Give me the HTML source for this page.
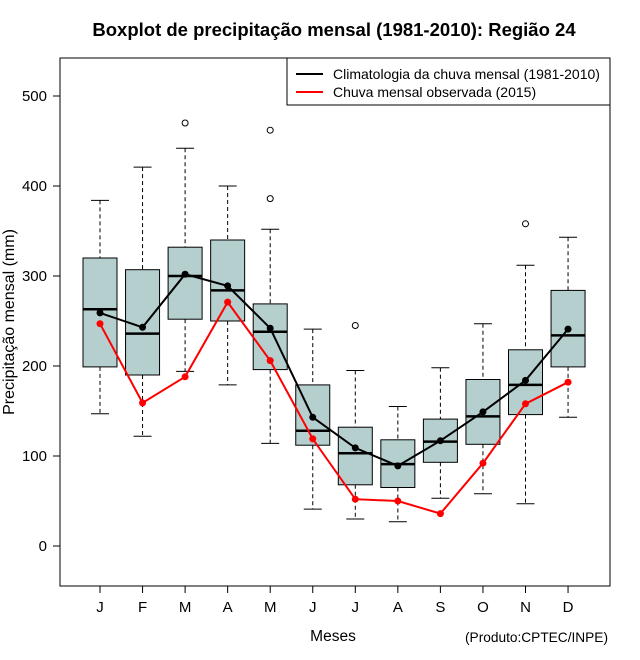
<!DOCTYPE html>
<html><head><meta charset="utf-8"><style>body{margin:0;background:#fff}svg{display:block;font-family:"Liberation Sans",sans-serif}</style></head>
<body>
<svg id="chart" width="640" height="660">
<text x="334" y="36" text-anchor="middle" font-size="18.5" font-weight="bold">Boxplot de precipitação mensal (1981-2010): Região 24</text>
<rect x="60" y="58" width="550" height="528" fill="none" stroke="#000"/>
<g id="yaxis"></g>
<g id="xaxis"></g>
<g id="boxes"></g>
<g id="lines"></g>
<text x="14" y="322" transform="rotate(-90 14 322)" text-anchor="middle" font-size="16">Precipitação mensal (mm)</text>
<text x="333" y="641" text-anchor="middle" font-size="15.5">Meses</text>
<text x="608" y="642" text-anchor="end" font-size="13.7">(Produto:CPTEC/INPE)</text>
<g>
<rect x="287" y="58" width="323" height="47" fill="#fff" stroke="#000"/>
<line x1="296" y1="74" x2="323" y2="74" stroke="#000" stroke-width="2"/>
<text x="333" y="79" font-size="14">Climatologia da chuva mensal (1981-2010)</text>
<line x1="296" y1="92" x2="323" y2="92" stroke="#f00" stroke-width="2"/>
<text x="333" y="97" font-size="14">Chuva mensal observada (2015)</text>
</g>
</svg>
<script>
const months=["J","F","M","A","M","J","J","A","S","O","N","D"];
const whiskerLow=[147,122,194,179,114,41,30,27,53,58,47,143];
const q1=[199,190,252,250,196,112,68,65,93,113,146,199];
const median=[263,236,300,284,238,128,103,91,116,144,179,234];
const q3=[320,307,332,340,269,179,132,118,141,185,218,284];
const whiskerHigh=[384,421,442,400,352,241,195,155,198,247,312,343];
const outliers=[[],[],[470],[],[462,386],[],[245],[],[],[],[358],[]];
const climatology=[259,243,302,289,242,143,109,89,117,149,184,241];
const observed=[247,159,188,271,206,119,52,50,36,92,158,182];
const yTicks=[0,100,200,300,400,500];
const NS="http://www.w3.org/2000/svg";
const y=v=>546-v*0.9;
const x=i=>100+i*42.55;
function mk(p,t,a){const e=document.createElementNS(NS,t);for(const k in a)e.setAttribute(k,a[k]);p.appendChild(e);return e;}
const ya=document.getElementById('yaxis');
mk(ya,'line',{x1:60,x2:60,y1:y(0),y2:y(500),stroke:'#000'});
yTicks.forEach(v=>{mk(ya,'line',{x1:53,x2:60,y1:y(v),y2:y(v),stroke:'#000'});
const t=mk(ya,'text',{x:47,y:y(v)+5,'text-anchor':'end','font-size':15});t.textContent=v;

});
const xa=document.getElementById('xaxis');
months.forEach((m,i)=>{mk(xa,'line',{x1:x(i),x2:x(i),y1:586,y2:593,stroke:'#000'});
const t=mk(xa,'text',{x:x(i),y:612,'text-anchor':'middle','font-size':15});t.textContent=m;

});
const bx=document.getElementById('boxes');
months.forEach((m,i)=>{const g=mk(bx,'g',{});


const cx=x(i),w=17;
mk(g,'line',{x1:cx,x2:cx,y1:y(whiskerHigh[i]),y2:y(q3[i]),stroke:'#000','stroke-dasharray':'4,3'});
mk(g,'line',{x1:cx,x2:cx,y1:y(q1[i]),y2:y(whiskerLow[i]),stroke:'#000','stroke-dasharray':'4,3'});
mk(g,'line',{x1:cx-9,x2:cx+9,y1:y(whiskerHigh[i]),y2:y(whiskerHigh[i]),stroke:'#000'});
mk(g,'line',{x1:cx-9,x2:cx+9,y1:y(whiskerLow[i]),y2:y(whiskerLow[i]),stroke:'#000'});
mk(g,'rect',{x:cx-w,y:y(q3[i]),width:2*w,height:y(q1[i])-y(q3[i]),fill:'#b5cfcf',stroke:'#000'});
mk(g,'line',{x1:cx-w,x2:cx+w,y1:y(median[i]),y2:y(median[i]),stroke:'#000','stroke-width':2.5});
outliers[i].forEach(o=>mk(g,'circle',{cx:cx,cy:y(o),r:3,fill:'none',stroke:'#000'}));});
const ln=document.getElementById('lines');
function series(vals,col,name){const g=mk(ln,'g',{});


mk(g,'polyline',{points:vals.map((v,i)=>x(i)+','+y(v)).join(' '),fill:'none',stroke:col,'stroke-width':2});
vals.forEach((v,i)=>mk(g,'circle',{cx:x(i),cy:y(v),r:3.5,fill:col}));}
series(climatology,'#000','climatology-line');
series(observed,'#f00','observed-line');
</script>
</body></html>
